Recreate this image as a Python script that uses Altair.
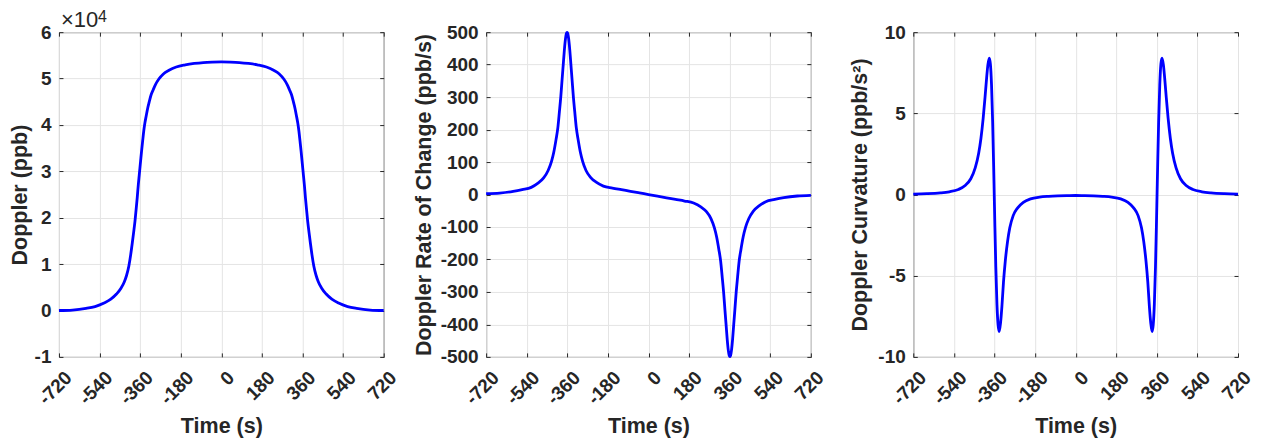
import altair as alt
import pandas as pd

# ---------------- data ----------------
TIME = [-720, -660, -600, -560, -520, -490, -465, -445, -430, -420, -410, -402, -395, -389,
        -383, -378, -373, -368, -364, -361, -358, -354, -349, -344, -339, -333, -327, -320,
        -312, -302, -292, -277, -257, -232, -200, -160, -120, -80, -40, 0,
        40, 80, 120, 160, 200, 232, 257, 277, 292, 302, 312, 320, 327, 333, 339, 344, 349,
        354, 358, 361, 364, 368, 373, 378, 383, 389, 395, 402, 410, 420, 430, 445, 465, 490,
        520, 560, 600, 660, 720]

DOPPLER_PPB = [0, 100, 450, 850, 1600, 2450, 3550, 4800, 6200, 7600, 9600, 12000, 14500, 16800,
               19200, 21700, 24300, 27200, 29200, 30700, 32200, 34200, 36500, 38700, 40400, 42000,
               43500, 44900, 46400, 47600, 48700, 49900, 51000, 51800, 52500, 52950, 53250, 53450,
               53550, 53600,
               53550, 53450, 53250, 52950, 52500, 51800, 51000, 49900, 48700, 47600, 46400, 44900,
               43500, 42000, 40400, 38700, 36500, 34200, 32200, 30700, 29200, 27200, 24300, 21700,
               19200, 16800, 14500, 12000, 9600, 7600, 6200, 4800, 3550, 2450, 1600, 850, 450, 100, 0]

RATE_PPB_S = [2.5, 4.5, 9.5, 15, 22, 35, 51, 74, 102, 130, 169, 205, 255, 300,
              355, 400, 445, 480, 496, 499, 496, 480, 445, 400, 355, 300, 255, 205,
              169, 130, 102, 74, 53, 38, 26, 20, 15, 10, 5, 0,
              -5, -10, -15, -20, -26, -38, -53, -74, -102, -130, -169, -205, -255, -300, -355,
              -400, -445, -480, -496, -499, -496, -480, -445, -400, -355, -300, -255, -205,
              -169, -130, -102, -74, -51, -35, -22, -15, -9.5, -4.5, -2.5]

CURV_PPB_S2 = [0.03, 0.05, 0.10, 0.17, 0.31, 0.56, 0.97, 1.65, 2.54, 3.45, 4.70, 5.96, 7.14, 8.0,
               8.4, 8.03, 6.75, 4.46, 2.02, 0.0, -2.02, -4.46, -6.75, -8.03, -8.44, -7.9, -6.9, -5.4,
               -4.1, -2.9, -2.05, -1.3, -0.82, -0.48, -0.27, -0.16, -0.11, -0.08, -0.065, -0.06,
               -0.065, -0.08, -0.11, -0.16, -0.27, -0.48, -0.82, -1.3, -2.05, -2.9, -4.1, -5.4,
               -6.9, -7.9, -8.44, -8.03, -6.75, -4.46, -2.02, 0.0, 2.02, 4.46, 6.75, 8.03, 8.4,
               8.0, 7.14, 5.96, 4.70, 3.45, 2.54, 1.65, 0.97, 0.56, 0.31, 0.17, 0.10, 0.05, 0.03]

X_TICKS = [-720, -540, -360, -180, 0, 180, 360, 540, 720]
Y1_TICKS = [-10000, 0, 10000, 20000, 30000, 40000, 50000, 60000]
Y2_TICKS = [-500, -400, -300, -200, -100, 0, 100, 200, 300, 400, 500]
Y3_TICKS = [-10, -5, 0, 5, 10]

X_TITLE = "Time (s)"
Y1_TITLE = "Doppler (ppb)"
Y2_TITLE = "Doppler Rate of Change (ppb/s)"
Y3_TITLE = "Doppler Curvature (ppb/s²)"
EXP_BASE = "×10"
EXP_POWER = "4"

df = pd.DataFrame({"t": TIME, "doppler": DOPPLER_PPB, "rate": RATE_PPB_S, "curv": CURV_PPB_S2})

FONT = "Liberation Sans"
AX = "#262626"
GRID = "#e4e4e4"
BLUE = "#0000ff"
W, H = 325, 325
TK = 4


def panel(field, ytitle, ydomain, yticks, yexpr, title_pad, extra=None):
    xscale = alt.Scale(domain=[-720, 720], nice=False, zero=False)
    yscale = alt.Scale(domain=ydomain, nice=False, zero=False)
    line = alt.Chart(df).mark_line(color=BLUE, strokeWidth=2.8, interpolate="monotone").encode(
        x=alt.X("t:Q", scale=xscale, axis=alt.Axis(
            values=X_TICKS, title=X_TITLE, labelAngle=-45, labelAlign="right", labelBaseline="top",
            labelExpr="'' + datum.value", grid=True, gridColor=GRID, domain=False,
            tickSize=TK, offset=-TK, tickColor=AX, labelPadding=TK + 7, labelOffset=3,
            titlePadding=7)),
        y=alt.Y(f"{field}:Q", scale=yscale, axis=alt.Axis(
            values=yticks, title=ytitle, labelExpr=yexpr, grid=True, gridColor=GRID, domain=False,
            tickSize=TK, offset=-TK, tickColor=AX, labelPadding=TK + 4, titlePadding=title_pad)),
    )
    ghost = alt.Chart(df).mark_line(opacity=0).encode(
        x=alt.X("t:Q", scale=xscale, axis=alt.Axis(
            orient="top", values=X_TICKS, labels=False, title=None, grid=False, domain=False,
            tickSize=TK, offset=-TK, tickColor=AX)),
        y=alt.Y(f"{field}:Q", scale=yscale, axis=alt.Axis(
            orient="right", values=yticks, labels=False, title=None, grid=False, domain=False,
            tickSize=TK, offset=-TK, tickColor=AX)),
    )
    layers = [line, ghost]
    if extra:
        layers += extra
    return alt.layer(*layers).resolve_axis(x="independent", y="independent").properties(
        width=W, height=H)


exp_df = pd.DataFrame({"b": [EXP_BASE], "p": [EXP_POWER]})
exp_base = alt.Chart(exp_df).mark_text(
    font=FONT, fontSize=22, color=AX, align="left", baseline="alphabetic"
).encode(text="b:N", x=alt.value(2), y=alt.value(-5))
exp_pow = alt.Chart(exp_df).mark_text(
    font=FONT, fontSize=16, color=AX, align="left", baseline="alphabetic"
).encode(text="p:N", x=alt.value(39), y=alt.value(-10))

p1 = panel("doppler", Y1_TITLE, [-10000, 60000], Y1_TICKS, "'' + datum.value / 10000", 3,
           extra=[exp_base, exp_pow])
p2 = panel("rate", Y2_TITLE, [-500, 500], Y2_TICKS, "'' + datum.value", 5)
p3 = panel("curv", Y3_TITLE, [-10, 10], Y3_TICKS, "'' + datum.value", 6)

chart = alt.hconcat(p1, p2, p3, spacing=102.5, bounds="flush").properties(
    padding={"left": 0, "top": 0, "right": 0, "bottom": 0},
    background="white",
).configure_view(stroke=AX, strokeWidth=1).configure_axis(
    labelFont=FONT, labelFontSize=19, labelFontWeight="bold", labelColor=AX,
    titleFont=FONT, titleFontSize=21.5, titleFontWeight="bold", titleColor=AX,
)

chart.save("out.html", embed_options={"renderer": "svg", "actions": False})
